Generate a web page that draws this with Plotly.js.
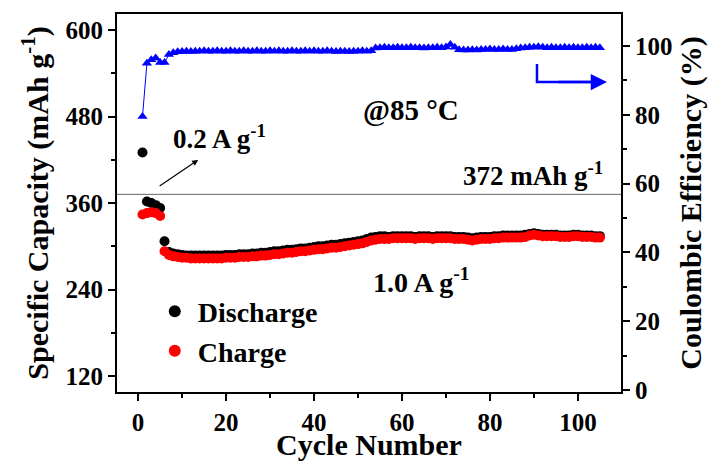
<!DOCTYPE html>
<html>
<head>
<meta charset="utf-8">
<script src="https://cdn.plot.ly/plotly-3.0.1.min.js"></script>
<style>html,body{margin:0;padding:0;background:#fff;}#chart{width:718px;height:461px;}</style>
</head>
<body>
<div id="chart"></div>
<script>
const cycles = [1,2,3,4,5,6,7,8,9,10,11,12,13,14,15,16,17,18,19,20,21,22,23,24,25,26,27,28,29,30,31,32,33,34,35,36,37,38,39,40,41,42,43,44,45,46,47,48,49,50,51,52,53,54,55,56,57,58,59,60,61,62,63,64,65,66,67,68,69,70,71,72,73,74,75,76,77,78,79,80,81,82,83,84,85,86,87,88,89,90,91,92,93,94,95,96,97,98,99,100,101,102,103,104,105];

const discharge = [430,362,360,357,353,307,292,290,289,288,
  287,287,287,287,287,287,287,287,287,288,
  288,288,289,289,289,290,290,291,291,292,
  293,293,294,295,295,296,297,297,298,299,
  300,300,301,302,302,303,304,305,306,307,
  308,310,312,313,314,314,313,314,314,314,
  314,314,313,314,314,314,313,314,314,314,
  314,313,313,313,312,311,312,313,313,313,
  314,314,315,315,315,315,315,316,317,318,
  317,316,316,316,316,315,315,315,316,316,
  315,315,315,314,314];

const charge = [344,346,347,346,342,293,288,286,285,284,
  284,283,283,283,283,283,283,283,283,284,
  284,284,285,285,285,286,286,287,287,288,
  289,289,290,291,291,292,293,293,294,295,
  296,296,297,298,298,299,300,301,302,303,
  304,306,308,309,310,310,310,311,311,311,
  311,311,310,311,311,311,310,311,311,311,
  311,310,310,310,309,308,309,310,310,310,
  311,311,312,312,312,312,312,313,315,316,
  315,314,314,314,314,313,313,313,314,314,
  313,313,313,312,312];

const efficiency = [79.5,95,96,96.5,95.2,95.2,97.5,98,98.3,98.4,
  98.5,98.4,98.5,98.5,98.6,98.5,98.5,98.6,98.5,98.5,
  98.6,98.5,98.5,98.6,98.5,98.5,98.6,98.5,98.5,98.6,
  98.5,98.6,98.5,98.5,98.6,98.5,98.5,98.6,98.5,98.6,
  98.5,98.5,98.6,98.5,98.4,98.5,98.5,98.4,98.5,98.5,
  98.6,98.5,98.6,99.4,99.5,99.6,99.5,99.5,99.6,99.5,
  99.5,99.6,99.5,99.5,99.4,99.5,99.5,99.6,99.5,99.7,
  100.4,99.6,98.9,98.8,98.8,98.9,98.8,99.0,99.0,99.1,
  99.0,99.0,99.1,99.0,99.0,99.2,99.4,99.5,99.6,99.6,
  99.8,99.6,99.5,99.6,99.5,99.5,99.6,99.5,99.6,99.5,
  99.5,99.6,99.5,99.6,99.5];

const graphiteCapacity = 372;
const xTicks = [0,20,40,60,80,100];
const yTicks = [120,240,360,480,600];
const y2Ticks = [0,20,40,60,80,100];

const FONT = 'Liberation Serif, Times New Roman, serif';
const f = (size, color) => ({family: FONT, size: size, color: color || '#000', weight: 'bold'});

const traces = [
  {x: cycles, y: discharge, name: 'Discharge', type: 'scatter', mode: 'markers',
   marker: {color: '#000000', size: 10}, yaxis: 'y'},
  {x: cycles, y: charge, name: 'Charge', type: 'scatter', mode: 'markers',
   marker: {color: '#ff0000', size: 10}, yaxis: 'y'},
  {x: cycles, y: efficiency, name: 'Coulombic Efficiency', type: 'scatter', mode: 'lines+markers',
   line: {color: '#0000ff', width: 1}, marker: {color: '#0000ff', size: 9, symbol: 'triangle-up'},
   yaxis: 'y2', showlegend: false}
];

const axisCommon = {
  showgrid: false, zeroline: false, showline: true, linecolor: '#000', linewidth: 2,
  ticks: 'outside', ticklen: 7, tickwidth: 2, tickcolor: '#000',
  tickfont: f(25)
};

const layout = {
  width: 718, height: 461,
  margin: {l: 117, r: 97, t: 14, b: 69, pad: 0},
  paper_bgcolor: '#fff', plot_bgcolor: '#fff',
  showlegend: true,
  legend: {x: 0.069, y: 0.279, xanchor: 'left', yanchor: 'top', bgcolor: 'rgba(0,0,0,0)',
           font: f(28), itemsizing: 'constant', itemwidth: 36},
  xaxis: Object.assign({}, axisCommon, {
    range: [-4.8, 109.8], tickvals: xTicks, mirror: true,
    minor: {dtick: 10, tick0: 0, ticks: 'outside', ticklen: 4, tickwidth: 2, tickcolor: '#000'},
    title: {text: 'Cycle Number', font: f(30), standoff: 8}
  }),
  yaxis: Object.assign({}, axisCommon, {
    range: [97.8, 622.2], tickvals: yTicks,
    minor: {dtick: 60, tick0: 0, ticks: 'outside', ticklen: 4, tickwidth: 2, tickcolor: '#000'},
    title: {text: 'Specific Capacity (mAh g<sup>-1</sup>)', font: f(30), standoff: 8}
  }),
  yaxis2: Object.assign({}, axisCommon, {
    range: [-0.6, 109.3], tickvals: y2Ticks, overlaying: 'y', side: 'right',
    minor: {dtick: 10, tick0: 0, ticks: 'outside', ticklen: 4, tickwidth: 2, tickcolor: '#000'},
    title: {text: 'Coulombic Efficiency (%)', font: f(30), standoff: 8}
  }),
  shapes: [
    {type: 'line', xref: 'paper', x0: 0, x1: 1, yref: 'y', y0: graphiteCapacity, y1: graphiteCapacity,
     line: {color: '#666', width: 1}},
    {type: 'path', xref: 'paper', yref: 'paper', path: 'M 0.8333 0.8677 L 0.8333 0.8201 L 0.95 0.8201',
     line: {color: '#0000ff', width: 2.5}}
  ],
  annotations: [
    {xref: 'paper', yref: 'paper', x: 0.107, y: 0.675, xanchor: 'left', yanchor: 'middle',
     text: '0.2 A g<sup>-1</sup>', showarrow: false, font: f(27)},
    {xref: 'paper', yref: 'paper', x: 0.484, y: 0.746, xanchor: 'left', yanchor: 'middle',
     text: '@85 °C', showarrow: false, font: f(29)},
    {xref: 'paper', yref: 'paper', x: 0.683, y: 0.577, xanchor: 'left', yanchor: 'middle',
     text: graphiteCapacity + ' mAh g<sup>-1</sup>', showarrow: false, font: f(27)},
    {xref: 'paper', yref: 'paper', x: 0.503, y: 0.296, xanchor: 'left', yanchor: 'middle',
     text: '1.0 A g<sup>-1</sup>', showarrow: false, font: f(28)},
    {xref: 'paper', yref: 'paper', x: 0.161, y: 0.614, ax: -40, ay: 27, text: '',
     showarrow: true, arrowhead: 2, arrowsize: 1, arrowwidth: 1.2, arrowcolor: '#000'},
    {xref: 'paper', yref: 'paper', x: 0.9722, y: 0.8201, ax: -50, ay: 0, text: '',
     showarrow: true, arrowhead: 2, arrowsize: 1.3, arrowwidth: 2.5, arrowcolor: '#0000ff'}
  ]
};

Plotly.newPlot('chart', traces, layout, {displayModeBar: false, staticPlot: true});
</script>
</body>
</html>
